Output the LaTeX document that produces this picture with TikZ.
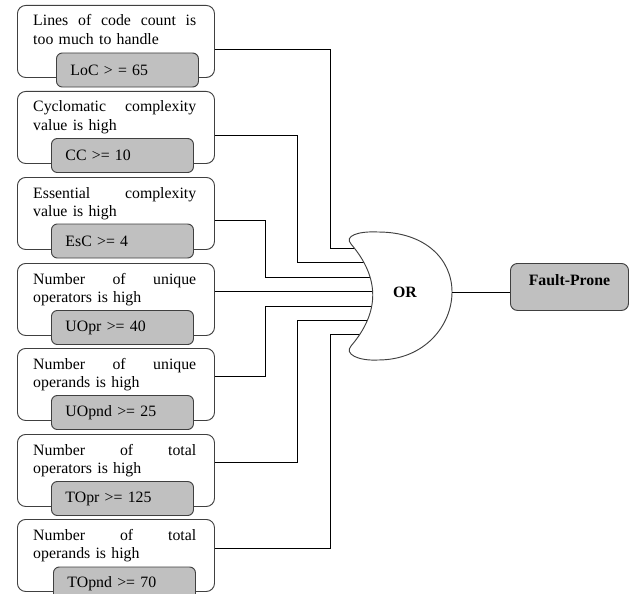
\documentclass[tikz,border=0pt]{standalone}
\usepackage{fontspec}
\setmainfont{Liberation Serif}
\definecolor{boxgray}{RGB}{192,192,192}
\definecolor{edgegray}{RGB}{64,64,64}
\begin{document}
\begin{tikzpicture}[x=0.03cm, y=-0.03cm,
    condbox/.style={draw=edgegray, line width=0.8pt, rounded corners=7pt, minimum width=5.91cm, minimum height=2.16cm, inner sep=0pt, anchor=north west},
    condtext/.style={anchor=base west, inner sep=0pt, text width=4.89cm, align=left, font=\fontsize{13.5}{15.5}\selectfont},
    limitbox/.style={draw=edgegray, line width=0.8pt, fill=boxgray, rounded corners=5pt, minimum height=1.02cm, text width=3.42cm, inner xsep=0.42cm, align=left, anchor=west, font=\fontsize{13.5}{15.5}\selectfont},
    faultbox/.style={draw=edgegray, line width=0.8pt, fill=boxgray, rounded corners=6pt, minimum width=3.54cm, inner xsep=0pt, inner ysep=0pt, text height=0.66cm, text depth=0.75cm, anchor=north west, font=\fontsize{13.5}{15.5}\selectfont\bfseries},
    wire/.style={line width=0.7pt}]

  \clip (0,0) rectangle (629,593);

  \node[condbox] (b1) at (17,5) {};
  \node[condtext] (t1) at (33,26) {Lines\hfill of\hfill code\hfill count\hfill is\\too much to handle};
  \node[limitbox] (c1) at (56,70) {LoC > = 65};

  \node[condbox] (b2) at (17,91) {};
  \node[condtext] (t2) at (33,112) {Cyclomatic\hfill complexity\\value is high};
  \node[limitbox] (c2) at (51,155.5) {CC >= 10};

  \node[condbox] (b3) at (17,177) {};
  \node[condtext] (t3) at (33,198) {Essential\hfill complexity\\value is high};
  \node[limitbox] (c3) at (51,241) {EsC >= 4};

  \node[condbox] (b4) at (17,263) {};
  \node[condtext] (t4) at (33,284) {Number\hfill of\hfill unique\\operators is high};
  \node[limitbox] (c4) at (51,327.5) {UOpr >= 40};

  \node[condbox] (b5) at (17,348) {};
  \node[condtext] (t5) at (33,369) {Number\hfill of\hfill unique\\operands is high};
  \node[limitbox] (c5) at (51,412.5) {UOpnd >= 25};

  \node[condbox] (b6) at (17,434) {};
  \node[condtext] (t6) at (33,455) {Number\hfill of\hfill total\\operators is high};
  \node[limitbox] (c6) at (51,498.5) {TOpr >= 125};

  \node[condbox] (b7) at (17,519) {};
  \node[condtext] (t7) at (33,540) {Number\hfill of\hfill total\\operands is high};
  \node[limitbox] (c7) at (53,584) {TOpnd >= 70};

  \coordinate (in1) at (378,248);
  \coordinate (in2) at (378,262);
  \coordinate (in3) at (378,277);
  \coordinate (in4) at (378,291);
  \coordinate (in5) at (378,306);
  \coordinate (in6) at (378,320);
  \coordinate (in7) at (378,334);
  \coordinate (tip) at (452,292);

  \draw[wire] (b1.east |- 0,49) -| (330,248) -- (in1);
  \draw[wire] (b2.east |- 0,135) -| (297,262) -- (in2);
  \draw[wire] (b3.east |- 0,220) -| (265,277) -- (in3);
  \draw[wire] (b4.east |- 0,291) -- (in4);
  \draw[wire] (b5.east |- 0,376) -| (265,306) -- (in5);
  \draw[wire] (b6.east |- 0,462) -| (297,320) -- (in6);
  \draw[wire] (b7.east |- 0,548) -| (330,334) -- (in7);

  \draw[draw=edgegray, line width=0.8pt, fill=white] (351,244) .. controls (380,278) and (380,312) .. (351,346)
    .. controls (344,354) and (358,361) .. (378,360) .. controls (425,360) and (452,325) .. (tip)
    .. controls (452,259) and (425,232) .. (378,232) .. controls (358,231) and (344,236) .. (351,244) -- cycle;
  \node[font=\fontsize{13.5}{15.5}\selectfont\bfseries] (or) at (405,292) {OR};

  \node[faultbox] (fp) at (510,263) {Fault-Prone};
  \draw[wire] (tip) -- (tip -| fp.west);
\end{tikzpicture}
\end{document}
